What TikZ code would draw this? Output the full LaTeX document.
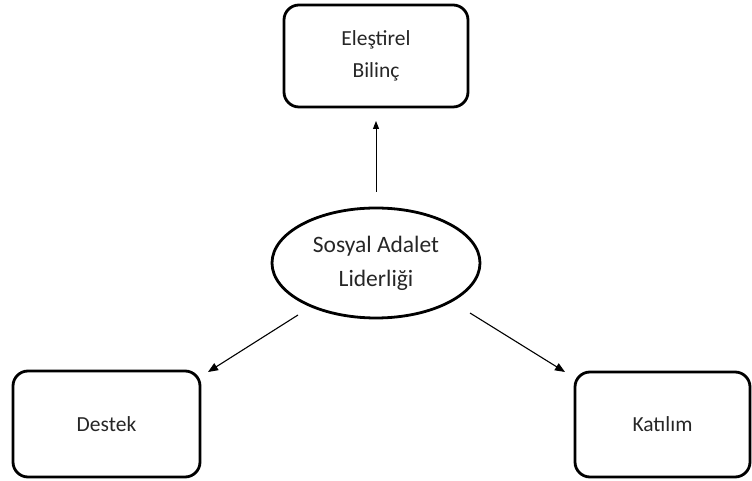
\documentclass[tikz,border=0pt]{standalone}
\usepackage{fontspec}
\setmainfont{Carlito}
\usetikzlibrary{shapes.geometric,arrows.meta}
\begin{document}
\begin{tikzpicture}[x=1pt,y=1pt,
  boxnode/.style={draw=black,line width=2.8pt,rounded corners=15pt,inner sep=0pt,align=center,
    font={\fontsize{21.5}{32}\selectfont},text=black!85},
  ellnode/.style={draw=black,ellipse,line width=2.8pt,inner sep=0pt,align=center,
    minimum width=208pt,minimum height=110pt,font={\fontsize{23.5}{34}\selectfont},text=black!85},
  conn/.style={line width=1.1pt,-{Triangle[length=10pt,width=8pt]}},
  upconn/.style={line width=1pt,-{Triangle[length=8pt,width=6pt]}}]
\useasboundingbox (0,0) rectangle (752,481);
\node[boxnode,minimum width=184pt,minimum height=102pt] (crit) at (376,425) {Eleştirel\\Bilinç};
\node[ellnode] (sal) at (376,218) {Sosyal Adalet\\Liderliği};
\node[boxnode,minimum width=187pt,minimum height=106pt] (dest) at (106.5,57) {Destek};
\node[boxnode,minimum width=175pt,minimum height=105pt] (kat) at (662.5,56.5) {Katılım};
\coordinate (a1) at (376,289);
\coordinate (a2) at (376,360);
\coordinate (b1) at (298,166);
\coordinate (b2) at (208,109);
\coordinate (c1) at (470,168);
\coordinate (c2) at (565,109);
\draw[upconn] (a1) -- (a2);
\draw[conn] (b1) -- (b2);
\draw[conn] (c1) -- (c2);
\end{tikzpicture}
\end{document}
